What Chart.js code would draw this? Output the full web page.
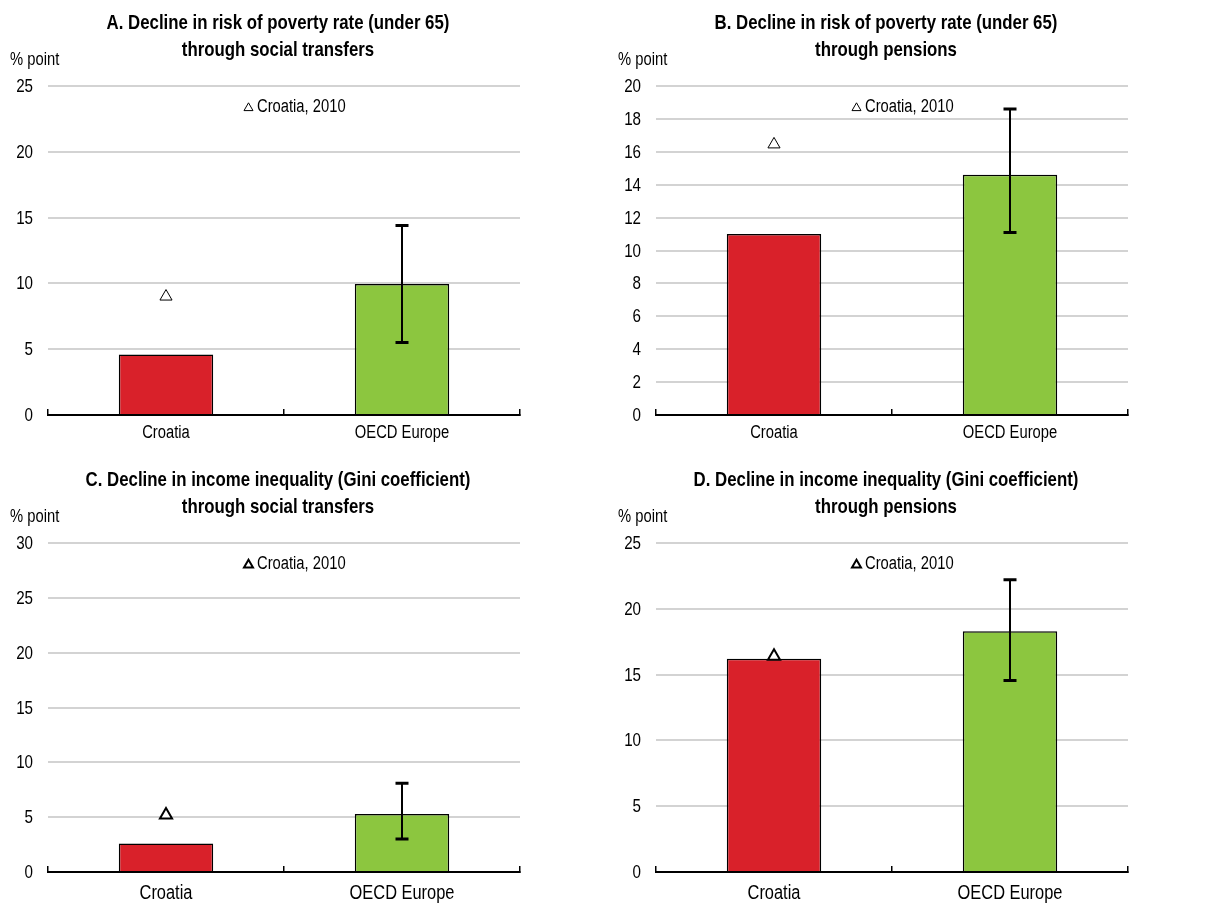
<!DOCTYPE html>
<html>
<head>
<meta charset="utf-8">
<script src="https://cdn.jsdelivr.net/npm/chart.js@4.4.1/dist/chart.umd.min.js"></script>
<style>
    body { margin: 0; background: #fff; }
    #wrap { position: relative; width: 1216px; height: 904px; overflow: hidden; }
    .panel { position: absolute; width: 608px; height: 447px; }
</style>
</head>
<body>
<div id="wrap">
    <div class="panel" style="left:0;top:0"><canvas id="panel_a" width="608" height="447"></canvas></div>
    <div class="panel" style="left:608px;top:0"><canvas id="panel_b" width="608" height="447"></canvas></div>
    <div class="panel" style="left:0;top:457px"><canvas id="panel_c" width="608" height="447"></canvas></div>
    <div class="panel" style="left:608px;top:457px"><canvas id="panel_d" width="608" height="447"></canvas></div>
</div>
<script>
const categories = ['Croatia', 'OECD Europe'];
const panelIds = ['panel_a', 'panel_b', 'panel_c', 'panel_d'];
const panelTitles = [
    ['A. Decline in risk of poverty rate (under 65)', 'through social transfers'],
    ['B. Decline in risk of poverty rate (under 65)', 'through pensions'],
    ['C. Decline in income inequality (Gini coefficient)', 'through social transfers'],
    ['D. Decline in income inequality (Gini coefficient)', 'through pensions']
];
const unitLabel = '% point';
const legendLabel = 'Croatia, 2010';

// bar values: [Croatia, OECD Europe]
const barValues = [
    [4.6, 9.95],
    [11.0, 14.6],
    [2.6, 5.3],
    [16.2, 18.3]
];
// Croatia 2010 markers
const croatia2010 = [9.0, 16.45, 5.2, 16.4];
// OECD Europe range (error bar)
const oecdLow = [5.5, 11.1, 3.0, 14.55];
const oecdHigh = [14.4, 18.6, 8.1, 22.2];

const yMax = [25, 20, 30, 25];
const yStep = [5, 2, 5, 5];

// no narrow font installed, so Liberation Sans is squeezed to look like Arial Narrow
const FONT = '"Liberation Sans", Arial, sans-serif';
const NARROW = 0.82;
const barColors = ['#d9212a', '#8cc63f'];

const narrowText = function (ctx, text, x, y, align, font) {
    ctx.save();
    ctx.font = font;
    ctx.textAlign = align;
    ctx.textBaseline = 'middle';
    ctx.fillStyle = '#000';
    ctx.translate(x, y);
    ctx.scale(NARROW, 1);
    ctx.fillText(text, 0, 0);
    ctx.restore();
}

const drawTriangle = function (ctx, cx, cy, r, lw) {
    ctx.save();
    ctx.beginPath();
    ctx.moveTo(cx, cy - r);
    ctx.lineTo(cx + r * 0.866, cy + r * 0.5);
    ctx.lineTo(cx - r * 0.866, cy + r * 0.5);
    ctx.closePath();
    ctx.fillStyle = '#fff';
    ctx.fill();
    ctx.lineWidth = lw;
    ctx.strokeStyle = '#000';
    ctx.stroke();
    ctx.restore();
}

const extras = {
    id: 'extras',
    afterDatasetsDraw(chart, args, opts) {
        const ctx = chart.ctx;
        const xs = chart.scales.x, ys = chart.scales.y;
        const px = xs.getPixelForValue(1);
        const top = ys.getPixelForValue(opts.high);
        const bot = ys.getPixelForValue(opts.low);
        ctx.save();
        ctx.strokeStyle = '#000';
        ctx.lineWidth = 2;
        ctx.beginPath();
        ctx.moveTo(px, top);
        ctx.lineTo(px, bot);
        ctx.stroke();
        ctx.lineWidth = 3;
        ctx.beginPath();
        ctx.moveTo(px - 6.5, top);
        ctx.lineTo(px + 6.5, top);
        ctx.moveTo(px - 6.5, bot);
        ctx.lineTo(px + 6.5, bot);
        ctx.stroke();
        ctx.restore();
    },
    afterDraw(chart, args, opts) {
        const ctx = chart.ctx;
        const area = chart.chartArea;
        const xs = chart.scales.x, ys = chart.scales.y;

        narrowText(ctx, opts.title[0], 278, 23, 'center', 'bold 20.5px ' + FONT);
        narrowText(ctx, opts.title[1], 278, 50, 'center', 'bold 20.5px ' + FONT);
        narrowText(ctx, unitLabel, 10, 60, 'left', '18px ' + FONT);

        // y tick labels
        ys.ticks.forEach(t => {
            narrowText(ctx, String(t.value), area.left - 15, ys.getPixelForValue(t.value) + 1, 'right', '18.5px ' + FONT);
        });
        // category labels
        chart.data.labels.forEach((lab, k) => {
            narrowText(ctx, lab, xs.getPixelForValue(k), area.bottom + opts.catGap, 'center', opts.catFont + 'px ' + FONT);
        });

        // legend inside the plot
        const lx = area.left + 196;
        const ly = area.top + 21;
        drawTriangle(ctx, lx + 4.5, ly + 1, 5.2, opts.markerWidth);
        narrowText(ctx, legendLabel, lx + 13, ly, 'left', '18px ' + FONT);
    }
}

const makePanel = function (i) {
    const markerWidth = i < 2 ? 1 : 2;
    return new Chart(document.getElementById(panelIds[i]), {
        type: 'bar',
        data: {
            labels: categories,
            datasets: [{
                type: 'line',
                data: [croatia2010[i], null],
                showLine: false,
                pointStyle: 'triangle',
                pointRadius: 7,
                pointBackgroundColor: '#fff',
                pointBorderColor: '#000',
                pointBorderWidth: markerWidth,
                order: 0
            }, {
                type: 'bar',
                data: barValues[i],
                backgroundColor: barColors,
                borderColor: '#000',
                borderWidth: 1.5,
                barPercentage: 0.4,
                categoryPercentage: 1,
                order: 1
            }]
        },
        plugins: [extras],
        options: {
            responsive: false,
            animation: false,
            devicePixelRatio: 1,
            layout: {
                padding: { left: 0, right: 88, top: 86, bottom: 0 }
            },
            plugins: {
                legend: { display: false },
                tooltip: { enabled: false },
                title: { display: false },
                extras: {
                    title: panelTitles[i],
                    low: oecdLow[i],
                    high: oecdHigh[i],
                    markerWidth: markerWidth,
                    catFont: i < 2 ? 18 : 20,
                    catGap: i < 2 ? 18 : 21
                }
            },
            scales: {
                x: {
                    offset: true,
                    grid: {
                        offset: true,
                        drawOnChartArea: false,
                        color: '#000',
                        lineWidth: 1.5,
                        tickLength: -6
                    },
                    border: { display: true, color: '#000', width: 2 },
                    ticks: { display: false },
                    afterFit: function (scale) {
                        scale.height = 32;
                    }
                },
                y: {
                    min: 0,
                    max: yMax[i],
                    ticks: {
                        stepSize: yStep[i],
                        display: false
                    },
                    grid: {
                        color: '#d3d3d3',
                        lineWidth: 2,
                        drawTicks: false
                    },
                    border: { display: false },
                    afterFit: function (scale) {
                        scale.width = 48;
                    }
                }
            }
        }
    });
}

for (let i = 0; i < panelIds.length; i++) {
    makePanel(i);
}
</script>
</body>
</html>
